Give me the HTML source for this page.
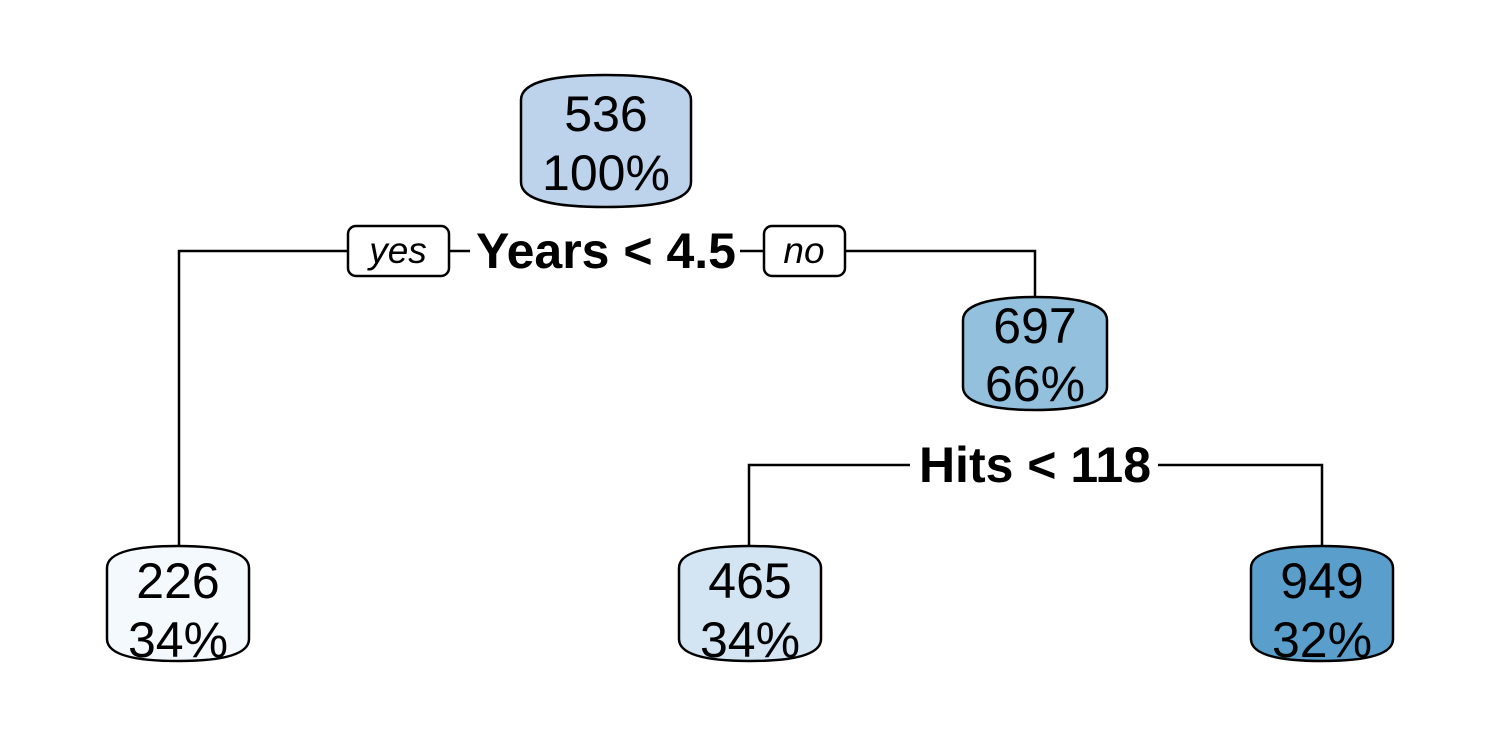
<!DOCTYPE html>
<html><head><meta charset="utf-8"><style>html,body{margin:0;padding:0;background:#fff}svg{display:block}</style></head>
<body>
<svg width="1500" height="750" viewBox="0 0 1500 750" xmlns="http://www.w3.org/2000/svg" font-family="Liberation Sans, Arial, sans-serif">
<g stroke="#000" stroke-width="2.5" fill="none">
<polyline points="348,251 179,251 179,546"/>
<line x1="449" y1="251" x2="470" y2="251"/>
<line x1="740" y1="251" x2="764" y2="251"/>
<polyline points="845,251 1035,251 1035,298"/>
<polyline points="910,465 749,465 749,546"/>
<polyline points="1158,465 1322,465 1322,546"/>
</g>
<g stroke="#000" stroke-width="2.5">
<path d="M521,100 C521,80 560,75 606,75 C652,75 691,80 691,100 L691,182 C691,202 652,207 606,207 C560,207 521,202 521,182 Z" fill="#bdd3ec"/>
<path d="M963,320 C963,302 1000,297 1035,297 C1070,297 1107,302 1107,320 L1107,387 C1107,405 1070,410 1035,410 C1000,410 963,405 963,387 Z" fill="#92c0dd"/>
<path d="M107,568 C107,550 143,546 178,546 C213,546 249,550 249,568 L249,639 C249,657 213,661 178,661 C143,661 107,657 107,639 Z" fill="#f4f9fe"/>
<path d="M679,568 C679,550 715,546 750,546 C785,546 821,550 821,568 L821,639 C821,657 785,661 750,661 C715,661 679,657 679,639 Z" fill="#d3e4f3"/>
<path d="M1251,568 C1251,550 1287,546 1322,546 C1357,546 1393,550 1393,568 L1393,639 C1393,657 1357,661 1322,661 C1287,661 1251,657 1251,639 Z" fill="#5a9fcb"/>
<rect x="348" y="226" width="101" height="50" rx="8" fill="#fff"/>
<rect x="764" y="226" width="81" height="50" rx="8" fill="#fff"/>
</g>
<g font-size="50" text-anchor="middle" fill="#000">
<text x="606" y="131">536</text><text x="606" y="190">100%</text>
<text x="1035" y="343">697</text><text x="1035" y="401">66%</text>
<text x="178" y="598">226</text><text x="178" y="657">34%</text>
<text x="750" y="598">465</text><text x="750" y="657">34%</text>
<text x="1322" y="598">949</text><text x="1322" y="657">32%</text>
</g>
<g font-size="50" font-weight="bold" text-anchor="middle">
<text x="606" y="268">Years &lt; 4.5</text>
<text x="1035" y="482">Hits &lt; 118</text>
</g>
<g font-size="37" font-style="italic" text-anchor="middle">
<text x="398" y="263">yes</text>
<text x="804" y="263">no</text>
</g>
</svg>
</body></html>
